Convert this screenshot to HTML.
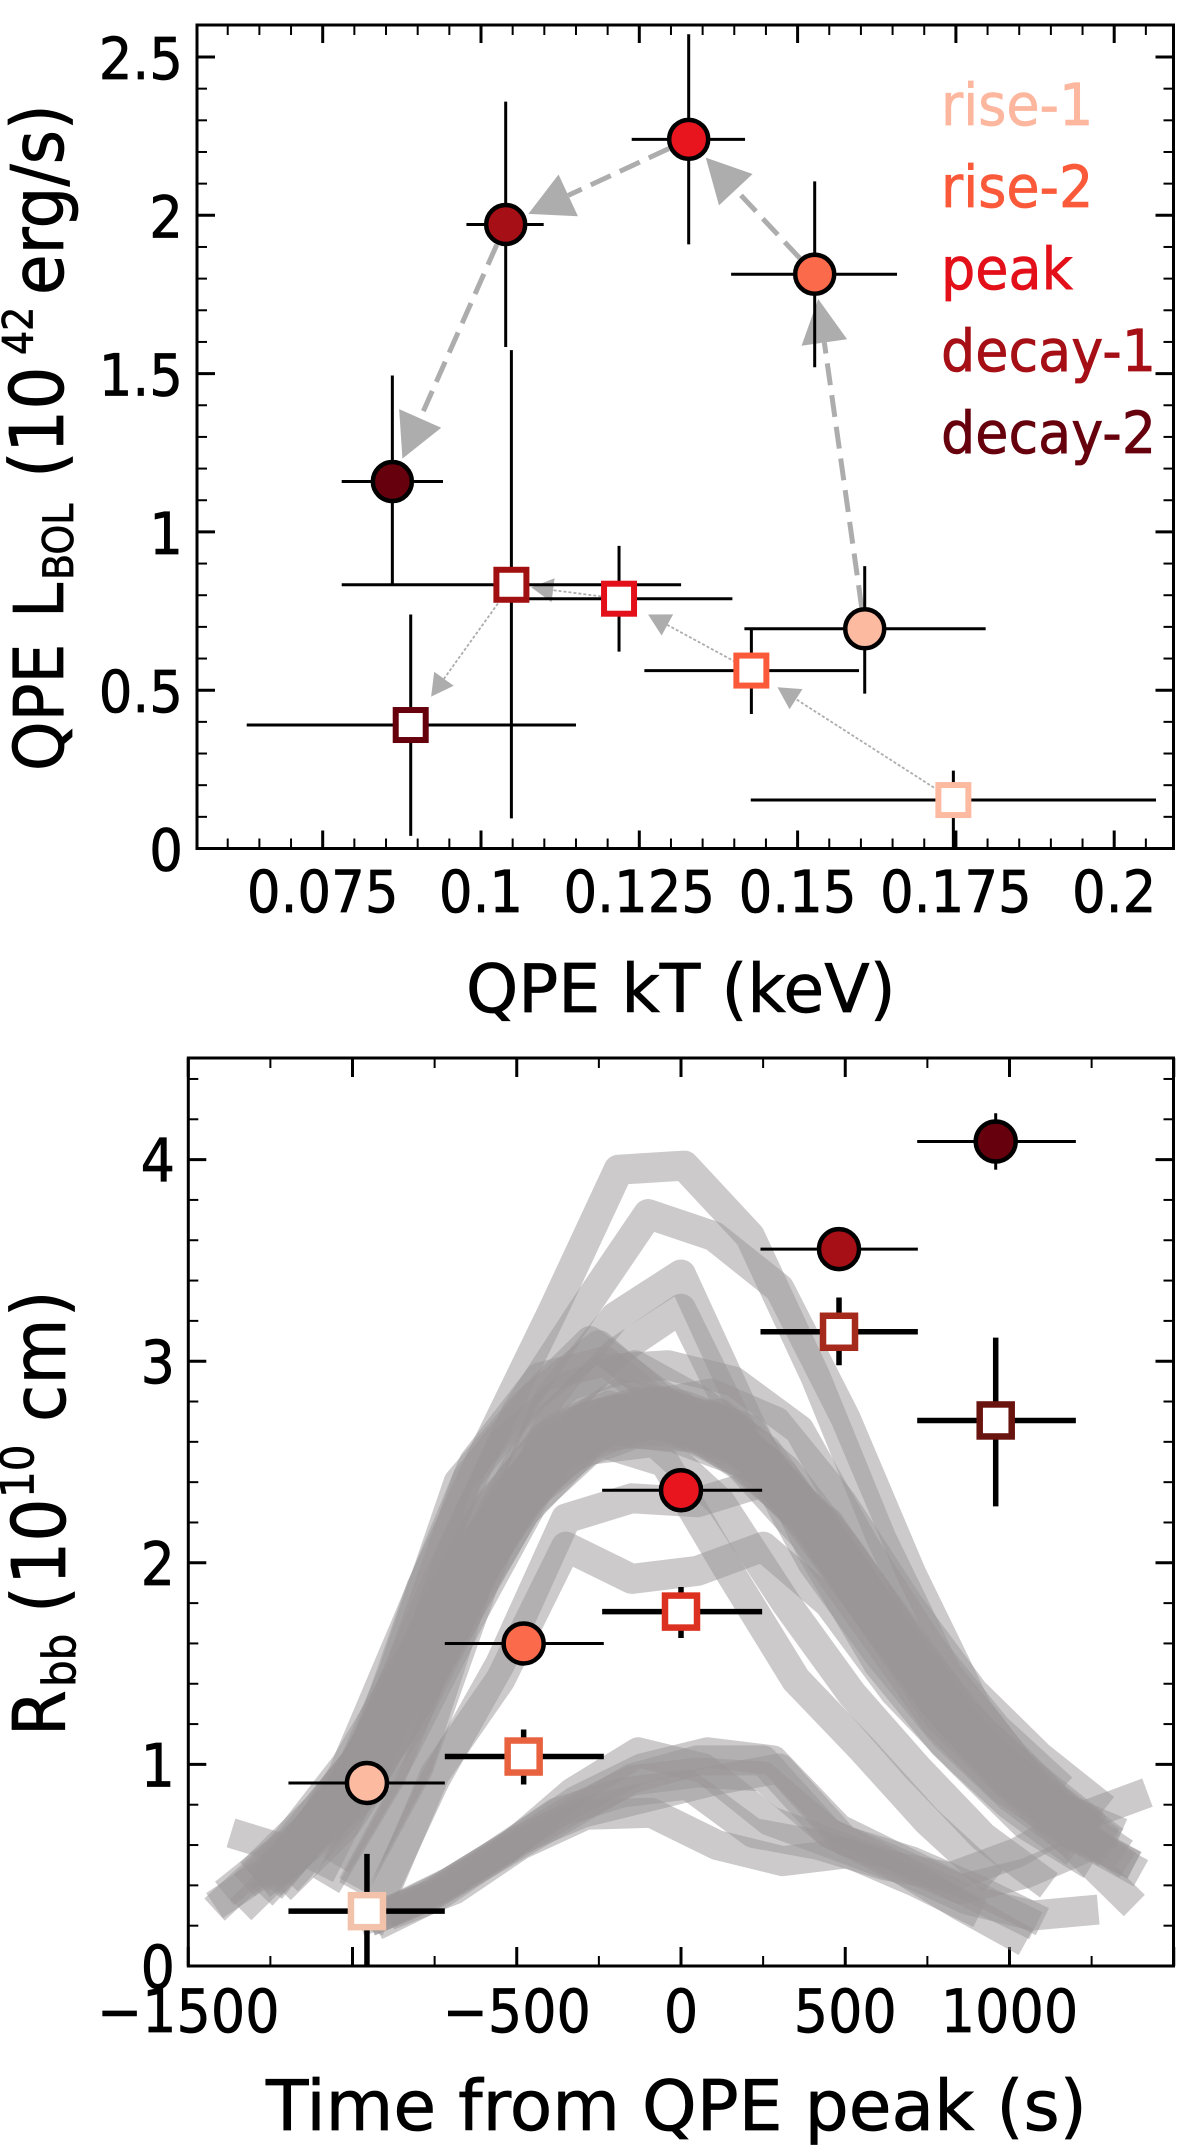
<!DOCTYPE html>
<html lang="en">
<head>
<meta charset="utf-8">
<title>QPE luminosity, temperature and radius</title>
<style>
html,body{margin:0;padding:0;background:#fff;}
svg{display:block;font-family:"DejaVu Sans","Liberation Sans",sans-serif;}
svg text{stroke-width:.7px;}
</style>
</head>
<body>
<svg id="figure" xmlns="http://www.w3.org/2000/svg" width="1200" height="2148" viewBox="0 0 1200 2148">
  <defs>
    <clipPath id="clip-top"><rect x="197" y="25" width="976.5" height="823.5"/></clipPath>
    <clipPath id="clip-bottom"><rect x="188.3" y="1058" width="985.2" height="908"/></clipPath>
  </defs>
  <g id="top-panel"></g>
  <g id="bottom-panel"></g>

  <text x="466" y="1012" font-size="66.4" fill="#000" stroke="#000">QPE kT (keV)</text>
  <text transform="translate(63,771) rotate(-90) scale(1,1.09)" font-size="63" fill="#000" stroke="#000">QPE<tspan x="153">L</tspan><tspan x="191" y="9" font-size="38">BOL</tspan><tspan x="293" y="0" font-size="68">(</tspan><tspan x="318" y="0" font-size="68">10</tspan><tspan x="416" y="-28" font-size="38">42</tspan><tspan x="476" y="0" font-size="66">erg/s)</tspan></text>
  <text x="266" y="2130" font-size="69.5" fill="#000" stroke="#000">Time from QPE peak (s)</text>
  <text transform="translate(65,1733) rotate(-90) scale(1,1.09)" font-size="66" fill="#000" stroke="#000"><tspan x="-3" y="0">R</tspan><tspan x="46" y="9" font-size="42">bb</tspan><tspan x="120" y="0" font-size="68">(</tspan><tspan x="148" y="0" font-size="68">10</tspan><tspan x="235" y="-29" font-size="42">10</tspan><tspan x="311" y="0" font-size="68">cm</tspan><tspan x="416" y="0" font-size="68">)</tspan></text>

  <g id="legend" font-size="54">
    <text transform="translate(941,125) scale(1,1.08)" fill="#fcb79e" stroke="#fcb79e">rise-1</text>
    <text transform="translate(941,207) scale(1,1.08)" fill="#fb5a3a" stroke="#fb5a3a">rise-2</text>
    <text transform="translate(941,289) scale(1,1.08)" fill="#e3101a" stroke="#e3101a">peak</text>
    <text transform="translate(941,371) scale(1,1.08)" fill="#a50f15" stroke="#a50f15">decay-1</text>
    <text transform="translate(941,453) scale(1,1.08)" fill="#67000d" stroke="#67000d">decay-2</text>
  </g>
</svg>

<script>
/* ---------- shared categories ---------- */
const phases = ['rise-1','rise-2','peak','decay-1','decay-2'];
const circleColors = ['#fcbba1','#fb6a4a','#e8141e','#a50f15','#67000d'];
const squareColorsTop = ['#fcbba1','#fb5a3a','#e3101a','#a01010','#67000d'];
const squareColorsBottom = ['#f2c2aa','#e8623f','#dc3120','#a52a1c','#6a1410'];

/* ---------- top panel data ---------- */
const topXTicks = [0.075,0.1,0.125,0.15,0.175,0.2];
const topXTickLabels = ['0.075','0.1','0.125','0.15','0.175','0.2'];
const topYTicks = [0,0.5,1,1.5,2,2.5];
const topYTickLabels = ['0','0.5','1','1.5','2','2.5'];

const circleKT = [0.1606,0.1527,0.1328,0.1039,0.0860];
const circleKTLow = [0.1416,0.1395,0.1238,0.0977,0.0780];
const circleKTHigh = [0.1797,0.1657,0.1417,0.1099,0.0940];
const circleL = [0.694,1.814,2.240,1.971,1.159];
const circleLLow = [0.489,1.520,1.908,1.584,0.835];
const circleLHigh = [0.892,2.107,2.572,2.359,1.494];

const squareKT = [0.1746,0.1427,0.1218,0.1048,0.0889];
const squareKTLow = [0.1426,0.1258,0.1047,0.0780,0.0630];
const squareKTHigh = [0.2066,0.1597,0.1397,0.1316,0.1150];
const squareL = [0.153,0.562,0.789,0.833,0.390];
const squareLLow = [0.000,0.425,0.622,0.095,0.040];
const squareLHigh = [0.246,0.695,0.956,1.574,0.739];

/* ---------- bottom panel data ---------- */
const botXTicks = [-1500,-500,0,500,1000];
const botXTickLabels = ['\u22121500','\u2212500','0','500','1000'];
const botYTicks = [0,1,2,3,4];
const botYTickLabels = ['0','1','2','3','4'];

const phaseTime = [-956,-479,0,481,958];
const phaseTimeLow = [-1195,-719,-240,242,719];
const phaseTimeHigh = [-719,-235,247,721,1202];
const circleR = [0.908,1.600,2.360,3.556,4.090];
const circleRLow = [0.850,1.530,2.300,3.490,3.950];
const circleRHigh = [0.970,1.670,2.420,3.620,4.230];
const squareR = [0.272,1.039,1.758,3.146,2.706];
const squareRLow = [0.000,0.900,1.627,2.980,2.280];
const squareRHigh = [0.556,1.173,1.880,3.316,3.117];

/* gray model curves: first sample time and values sampled every grayStep seconds */
const grayStep = 200;
const grayStarts = [
  -1420,-1420,-1390,-1330,-1290,-1250,-1240,-1370,-1220,-1200,
  -1190,-1260,-1280,-1340,-1310,-1240,-1277,-1250,-1230,-1140,
  -950,-950,-1050,-1080,-1000,-1000,-1100,-990,
  -950,-920,-900,-930,-890,-980,-950
];
const graySeries = [
  [.30,.52,.92,1.48,2.12,2.58,2.74,2.66,2.52,2.18,1.72,1.24,.92,.62,.30],
  [.28,.58,1.00,1.55,2.20,2.62,2.78,2.70,2.48,2.12,1.66,1.20,.88,.66,.50],
  [.36,.62,1.02,1.62,2.28,2.66,2.82,2.72,2.55,2.25,1.78,1.28,.98,.70],
  [.40,.70,1.16,1.78,2.36,2.70,2.80,2.72,2.50,2.10,1.62,1.18,.90,.68],
  [.42,.72,1.22,1.85,2.42,2.72,2.80,2.72,2.44,2.02,1.52,1.12,.84,.62],
  [.40,.76,1.28,1.92,2.46,2.74,2.80,2.68,2.34,1.88,1.42,1.02,.78,.56],
  [.45,.82,1.35,2.00,2.50,2.70,2.68,2.58,2.26,1.82,1.36,.98,.72,.50],
  [.66,.56,.84,1.40,2.05,2.52,2.70,2.62,2.46,2.14,1.68,1.22,.88,.64],
  [.38,.70,1.20,1.85,2.40,2.66,2.62,2.50,2.20,1.72,1.28,.94,.68,.50],
  [.42,.78,1.30,1.96,2.48,2.76,2.72,2.56,2.12,1.68,1.24,.90,.64,.46],
  [.50,.90,1.46,2.14,2.62,2.84,2.78,2.66,2.16,1.70,1.26,.94,.66],
  [.44,.80,1.24,1.82,2.34,2.62,2.66,2.60,2.36,1.92,1.46,1.06,.80,.66],
  [.40,.66,1.10,1.66,2.24,2.58,2.70,2.74,2.46,2.04,1.56,1.16,.86,.62],
  [.28,.60,1.04,1.60,2.18,2.52,2.64,2.62,2.50,2.16,1.72,1.26,.96,.70],
  [.46,.78,1.18,1.70,2.30,2.64,2.78,2.84,2.70,2.30,1.80,1.36,1.04,.78],
  [.50,.88,1.40,2.06,2.66,2.96,2.98,2.90,2.66,2.08,1.58,1.18,.88],
  [.35,.70,1.45,2.40,2.78,3.10,2.85,2.66,2.40,1.96,1.46,1.06,.80],
  [.38,.78,1.50,2.42,2.82,3.08,2.80,2.60,2.28,1.84,1.36,1.00,.76],
  [.45,.95,1.72,2.50,2.92,3.00,2.74,2.50,2.22,1.76,1.32,.96,.72],
  [.60,1.16,1.92,2.60,2.88,2.98,2.80,2.56,2.10,1.66,1.20,.90,.66],
  [.22,.92,1.50,2.22,2.32,2.30,2.40,2.20,1.72,1.24,.90,.60],
  [.18,.95,1.42,2.08,1.92,1.96,2.08,1.80,1.36,1.02,.70,.50],
  [.50,1.05,1.70,2.30,2.60,2.50,1.95,1.42,1.08,.72,.42],
  [.40,.95,1.75,2.30,2.56,2.60,2.30,1.80,1.35,.98,.64,.40],
  [.40,1.00,2.00,2.82,3.22,3.43,2.72,2.05,1.50,1.10,.80,.56],
  [.38,.98,1.90,2.70,3.04,3.26,2.60,2.00,1.55,1.15,.84,.60],
  [.45,1.10,2.05,2.75,3.25,3.73,3.62,3.36,2.72,1.95,1.28,.85,.55],
  [.95,1.88,2.58,3.25,3.95,3.97,3.62,2.92,2.12,1.45,1.05,.72],
  [.22,.36,.55,.74,.93,1.02,1.02,.66,.50,.30,.12],
  [.24,.40,.60,.82,.98,1.06,1.02,.68,.52,.36,.20],
  [.26,.42,.62,.76,.84,.92,.98,.62,.52,.38,.22],
  [.20,.36,.58,.86,1.06,.98,.72,.60,.48,.33,.25,.28],
  [.25,.38,.60,.75,.76,.60,.52,.56,.42,.26],
  [.22,.34,.54,.76,.86,.90,.66,.60,.50,.44,.56,.74,.86],
  [.22,.36,.56,.76,.92,.96,.94,.66,.52,.38,.46,.60]
];

/* ---------- axis functions ---------- */
const xTop = v => 322.7 + (v - 0.075) * 6332;
const yTop = v => 848.5 - v * 316.6;
const xBot = v => 681 + v * 0.3285;
const yBot = v => 1966 - v * 201.6;

const SVGNS = 'http://www.w3.org/2000/svg';
function make(parent, tag, attrs, text) {
  const el = document.createElementNS(SVGNS, tag);
  for (const k in attrs) el.setAttribute(k, attrs[k]);
  if (text !== undefined) el.textContent = text;
  parent.appendChild(el);
  return el;
}

function tickLine(parent, x1, y1, x2, y2, width, name) {
  const el = make(parent, 'line', {x1, y1, x2, y2, stroke: '#000', 'stroke-width': width});
  
  
}

function drawFrame(panel, L, T, R, B, name) {
  const el = make(panel, 'rect', {x: L, y: T, width: R - L, height: B - T, fill: 'none', stroke: '#000', 'stroke-width': 3});
  
  
}

/* ---------- top panel ---------- */
const topPanel = document.getElementById('top-panel');
const TL = 197, TT = 25, TR = 1173.5, TB = 848.5;

for (let k = 12; k <= 41; k++) {
  const v = k * 0.005;
  const px = xTop(v);
  if (px < TL || px > TR) continue;
  const major = k % 5 === 0;
  const len = major ? 18 : 10;
  const w = major ? 3 : 2;
  tickLine(topPanel, px, TB, px, TB - len, w, 'top-x-tick-bottom');
  tickLine(topPanel, px, TT, px, TT + len, w, 'top-x-tick-top');
}
for (let k = 0; k <= 25; k++) {
  const py = yTop(k * 0.1);
  const major = k % 5 === 0;
  const len = major ? 18 : 10;
  const w = major ? 3 : 2;
  tickLine(topPanel, TL, py, TL + len, py, w, 'top-y-tick-left');
  tickLine(topPanel, TR, py, TR - len, py, w, 'top-y-tick-right');
}
topXTicks.forEach((v, i) => {
  const el = make(topPanel, 'text', {transform: `translate(${xTop(v)},912) scale(1,1.1)`, 'text-anchor': 'middle', 'font-size': 53, fill: '#000', stroke: '#000'}, topXTickLabels[i]);
  
  
});
topYTicks.forEach((v, i) => {
  const el = make(topPanel, 'text', {transform: `translate(183,${yTop(v) + 22}) scale(1,1.1)`, 'text-anchor': 'end', 'font-size': 53, fill: '#000', stroke: '#000'}, topYTickLabels[i]);
  
  
});

const topClip = make(topPanel, 'g', {'clip-path': 'url(#clip-top)'});



function drawArrow(parent, x1, y1, x2, y2, startGap, endGap, headLen, headW, lineW, dash, color, name) {
  const dx = x2 - x1, dy = y2 - y1, d = Math.hypot(dx, dy);
  const ux = dx / d, uy = dy / d;
  const sx = x1 + ux * startGap, sy = y1 + uy * startGap;
  const tx = x2 - ux * endGap, ty = y2 - uy * endGap;
  const bx = tx - ux * headLen, by = ty - uy * headLen;
  const group = make(parent, 'g', {});
  
  
  make(group, 'line', {x1: sx, y1: sy, x2: bx, y2: by, stroke: color, 'stroke-width': lineW, 'stroke-dasharray': dash});
  make(group, 'polygon', {points: `${tx},${ty} ${bx - uy * headW / 2},${by + ux * headW / 2} ${bx + uy * headW / 2},${by - ux * headW / 2}`, fill: color});
}

for (let i = 0; i < phases.length - 1; i++) {
  drawArrow(topClip, xTop(circleKT[i]), yTop(circleL[i]), xTop(circleKT[i + 1]), yTop(circleL[i + 1]), 22, 25, 44, 46, 5, '22 10', '#adadad', 'circle-arrow-' + phases[i]);
}
const squareArrowGaps = [31, 33, 20, 35];
for (let i = 0; i < phases.length - 1; i++) {
  drawArrow(topClip, xTop(squareKT[i]), yTop(squareL[i]), xTop(squareKT[i + 1]), yTop(squareL[i + 1]), 18, squareArrowGaps[i], 22, 24, 1.8, '3 2', '#adadad', 'square-arrow-' + phases[i]);
}

function drawErrorBars(parent, cx, cy, x0, x1, y0, y1, wH, wV, name) {
  const g = make(parent, 'g', {stroke: '#000'});
  
  
  make(g, 'line', {x1: x0, y1: cy, x2: x1, y2: cy, 'stroke-width': wH});
  make(g, 'line', {x1: cx, y1: y0, x2: cx, y2: y1, 'stroke-width': wV});
}

phases.forEach((p, i) => {
  drawErrorBars(topClip, xTop(squareKT[i]), yTop(squareL[i]), xTop(squareKTLow[i]), xTop(squareKTHigh[i]), yTop(squareLLow[i]), yTop(squareLHigh[i]), 3, 3, 'square-error-' + p);
});
phases.forEach((p, i) => {
  drawErrorBars(topClip, xTop(circleKT[i]), yTop(circleL[i]), xTop(circleKTLow[i]), xTop(circleKTHigh[i]), yTop(circleLLow[i]), yTop(circleLHigh[i]), 3, 3, 'circle-error-' + p);
});
phases.forEach((p, i) => {
  const el = make(topClip, 'rect', {x: xTop(squareKT[i]) - 15, y: yTop(squareL[i]) - 15, width: 30, height: 30, fill: '#fff', stroke: squareColorsTop[i], 'stroke-width': 6});
  
  
});
phases.forEach((p, i) => {
  const el = make(topClip, 'circle', {cx: xTop(circleKT[i]), cy: yTop(circleL[i]), r: 19.5, fill: circleColors[i], stroke: '#000', 'stroke-width': 4.5});
  
  
});
drawFrame(topPanel, TL, TT, TR, TB, 'top-axes-frame');

/* ---------- bottom panel ---------- */
const botPanel = document.getElementById('bottom-panel');
const BL = 188.3, BT = 1058, BR = 1173.5, BB = 1966;

for (let k = -6; k <= 6; k++) {
  const v = k * 250;
  const px = xBot(v);
  const major = k % 2 === 0;
  const len = major ? 19 : 10;
  const w = major ? 3 : 2;
  tickLine(botPanel, px, BB, px, BB - len, w, 'bottom-x-tick-bottom');
  tickLine(botPanel, px, BT, px, BT + len, w, 'bottom-x-tick-top');
}
for (let k = 0; k <= 22; k++) {
  const py = yBot(k * 0.2);
  const major = k % 5 === 0;
  const len = major ? 18 : 10;
  const w = major ? 3 : 2;
  tickLine(botPanel, BL, py, BL + len, py, w, 'bottom-y-tick-left');
  tickLine(botPanel, BR, py, BR - len, py, w, 'bottom-y-tick-right');
}

const botClip = make(botPanel, 'g', {'clip-path': 'url(#clip-bottom)'});



graySeries.forEach((values, s) => {
  const pts = values.map((r, j) => xBot(grayStarts[s] + j * grayStep) + ',' + yBot(r)).join(' ');
  const el = make(botClip, 'polyline', {points: pts, fill: 'none', stroke: 'rgb(153,149,151)', 'stroke-opacity': 0.5, 'stroke-width': 30, 'stroke-linejoin': 'round', 'stroke-linecap': 'butt'});
  
  
});

phases.forEach((p, i) => {
  drawErrorBars(botClip, xBot(phaseTime[i]), yBot(squareR[i]), xBot(phaseTimeLow[i]), xBot(phaseTimeHigh[i]), yBot(squareRLow[i]), yBot(squareRHigh[i]), 5.5, 5.5, 'radius-square-error-' + p);
});
phases.forEach((p, i) => {
  drawErrorBars(botClip, xBot(phaseTime[i]), yBot(circleR[i]), xBot(phaseTimeLow[i]), xBot(phaseTimeHigh[i]), yBot(circleRLow[i]), yBot(circleRHigh[i]), 3, 3, 'radius-circle-error-' + p);
});
phases.forEach((p, i) => {
  const el = make(botClip, 'rect', {x: xBot(phaseTime[i]) - 16, y: yBot(squareR[i]) - 16, width: 32, height: 32, fill: '#fff', stroke: squareColorsBottom[i], 'stroke-width': 6.5});
  
  
});
phases.forEach((p, i) => {
  const el = make(botClip, 'circle', {cx: xBot(phaseTime[i]), cy: yBot(circleR[i]), r: 20, fill: circleColors[i], stroke: '#000', 'stroke-width': 4.5});
  
  
});
drawFrame(botPanel, BL, BT, BR, BB, 'bottom-axes-frame');

botXTicks.forEach((v, i) => {
  const el = make(botPanel, 'text', {transform: `translate(${xBot(v)},2032) scale(1,1.1)`, 'text-anchor': 'middle', 'font-size': 54, fill: '#000', stroke: '#000'}, botXTickLabels[i]);
  
  
});
botYTicks.forEach((v, i) => {
  const el = make(botPanel, 'text', {transform: `translate(175,${yBot(v) + 22}) scale(1,1.1)`, 'text-anchor': 'end', 'font-size': 54, fill: '#000', stroke: '#000'}, botYTickLabels[i]);
  
  
});
</script>
</body>
</html>
